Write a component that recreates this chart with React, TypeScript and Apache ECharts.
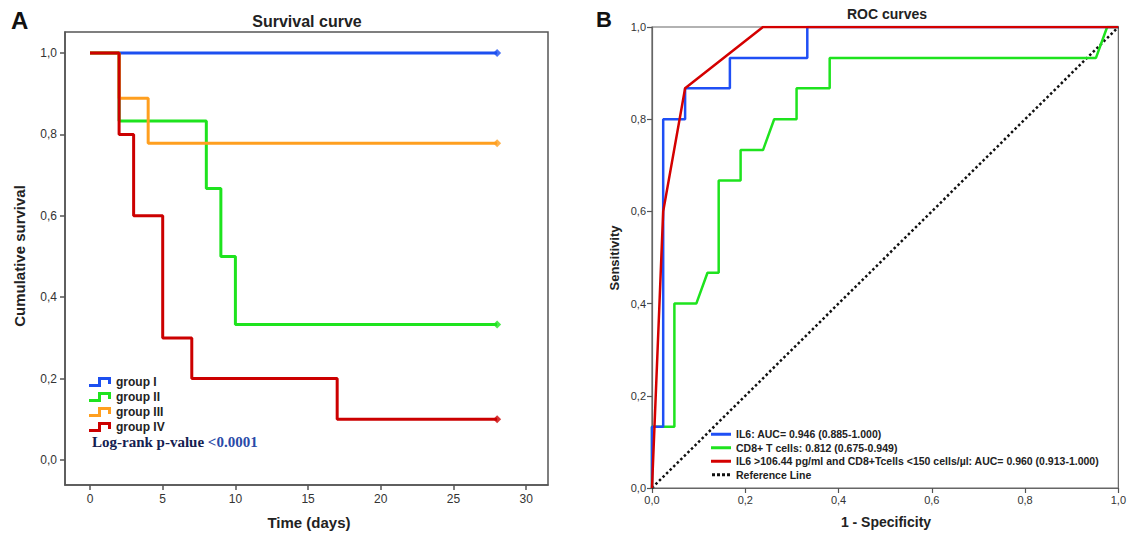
import React, { useEffect, useRef } from "react";
import * as echarts from "echarts";

// ---------- Panel A: survival curves ----------
const survivalXTicks = [0, 5, 10, 15, 20, 25, 30];
const survivalYTicks = [0, 0.2, 0.4, 0.6, 0.8, 1.0];
const groupNames = ["group I", "group II", "group III", "group IV"];
const groupColors = ["#1c4ff0", "#1ee31e", "#ff9f1f", "#cc0000"];
const groupITime = [0, 28];
const groupISurv = [1, 1];
const groupIITime = [0, 2, 8, 9, 10, 28];
const groupIISurv = [1, 0.833, 0.667, 0.5, 0.333, 0.333];
const groupIIITime = [0, 2, 4, 28];
const groupIIISurv = [1, 0.889, 0.778, 0.778];
const groupIVTime = [0, 2, 3, 5, 7, 17, 28];
const groupIVSurv = [1, 0.8, 0.6, 0.3, 0.2, 0.1, 0.1];
const censorTime = [28, 28, 28, 28];
const censorSurv = [1, 0.333, 0.778, 0.1];

// ---------- Panel B: ROC curves ----------
const rocTicks = [0, 0.2, 0.4, 0.6, 0.8, 1.0];
const rocNames = [
  "IL6: AUC= 0.946 (0.885-1.000)",
  "CD8+ T cells: 0.812 (0.675-0.949)",
  "IL6 >106.44 pg/ml and CD8+Tcells <150 cells/µl: AUC= 0.960 (0.913-1.000)",
  "Reference Line",
];
const rocColors = ["#1f4ff5", "#1ee31e", "#d40000", "#111111"];
const il6Fpr = [0, 0, 0.024, 0.024, 0.071, 0.071, 0.167, 0.167, 0.333, 0.333, 1];
const il6Tpr = [0, 0.133, 0.133, 0.8, 0.8, 0.867, 0.867, 0.933, 0.933, 1, 1];
const cd8Fpr = [0, 0, 0.048, 0.048, 0.095, 0.119, 0.143, 0.143, 0.19, 0.19, 0.238, 0.262, 0.31, 0.31, 0.381, 0.381, 0.952, 0.976, 1];
const cd8Tpr = [0, 0.133, 0.133, 0.4, 0.4, 0.467, 0.467, 0.667, 0.667, 0.733, 0.733, 0.8, 0.8, 0.867, 0.867, 0.933, 0.933, 1, 1];
const comboFpr = [0, 0.024, 0.071, 0.238, 1];
const comboTpr = [0, 0.6, 0.867, 1, 1];
const refFpr = [0, 1];
const refTpr = [0, 1];

const FONT = "'Liberation Sans', Arial, sans-serif";
const comma = (v: number) => v.toFixed(1).replace(".", ",");
const zip = (a: number[], b: number[]) => a.map((x, i) => [x, b[i]]);

const stepIcon = "path://M0,7 L9,7 L9,0 L22,0 L22,7 L19,7 L19,3 L12,3 L12,10 L0,10 Z";
const barIcon = "path://M0,0 L20,0 L20,3 L0,3 Z";
const dotIcon = "path://M0,0 L3,0 L3,3 L0,3 Z M5,0 L8,0 L8,3 L5,3 Z M10,0 L13,0 L13,3 L10,3 Z M15,0 L18,0 L18,3 L15,3 Z";

export default function App() {
  const ref = useRef<HTMLDivElement>(null);
  useEffect(() => {
    if (!ref.current) return;
    const chart = echarts.init(ref.current, undefined, { renderer: "svg" });
    const survData = [
      zip(groupITime, groupISurv),
      zip(groupIITime, groupIISurv),
      zip(groupIIITime, groupIIISurv),
      zip(groupIVTime, groupIVSurv),
    ];
    const rocData = [zip(il6Fpr, il6Tpr), zip(cd8Fpr, cd8Tpr), zip(comboFpr, comboTpr), zip(refFpr, refTpr)];
    const tickLabel = { fontFamily: FONT, color: "#333", fontSize: 12 };
    const axLineA = { show: true, onZero: false, lineStyle: { color: "#555", width: 1.5 } };
    const axLineB = { show: true, onZero: false, lineStyle: { color: "#666", width: 1.2 } };

    const option: any = {
      animation: false,
      backgroundColor: "#ffffff",
      grid: [
        { left: 65, top: 32, width: 483, height: 453, show: true, borderColor: "#555", borderWidth: 1.5, backgroundColor: "transparent" },
        { left: 652, top: 27, width: 469, height: 461, show: true, borderColor: "#666", borderWidth: 1.2, backgroundColor: "transparent" },
      ],
      xAxis: [
        {
          type: "value", gridIndex: 0, min: -1.72, max: 31.5,
          axisLine: axLineA, splitLine: { show: false },
          axisTick: { show: true, customValues: survivalXTicks, length: 5, lineStyle: { color: "#555", width: 1.5 } },
          axisLabel: { customValues: survivalXTicks, formatter: (v: number) => String(v), ...tickLabel, margin: 8 },
        },
        {
          type: "value", gridIndex: 1, min: 0, max: 1, interval: 0.2,
          axisLine: axLineB, splitLine: { show: false },
          axisTick: { show: true, length: 5, lineStyle: { color: "#555", width: 1.2 } },
          axisLabel: { formatter: comma, ...tickLabel, fontSize: 11, margin: 6 },
        },
      ],
      yAxis: [
        {
          type: "value", gridIndex: 0, min: -0.0614, max: 1.0516,
          axisLine: axLineA, splitLine: { show: false },
          axisTick: { show: true, customValues: survivalYTicks, length: 5, lineStyle: { color: "#555", width: 1.5 } },
          axisLabel: { customValues: survivalYTicks, formatter: comma, ...tickLabel, margin: 8 },
        },
        {
          type: "value", gridIndex: 1, min: 0, max: 1, interval: 0.2,
          axisLine: axLineB, splitLine: { show: false },
          axisTick: { show: true, length: 5, lineStyle: { color: "#555", width: 1.2 } },
          axisLabel: { formatter: comma, ...tickLabel, fontSize: 11, margin: 6 },
        },
      ],
      legend: [
        {
          orient: "vertical", left: 89, top: 375, padding: 0, itemWidth: 22, itemHeight: 10, itemGap: 1,
          data: groupNames.map((n) => ({ name: n, icon: stepIcon })),
          textStyle: { fontFamily: FONT, fontWeight: "bold", fontSize: 12, color: "#222", lineHeight: 14 },
          selectedMode: false,
        },
        {
          orient: "vertical", left: 711, top: 428, padding: 0, itemWidth: 20, itemHeight: 3, itemGap: 1,
          data: rocNames.map((n, i) => ({ name: n, icon: i === 3 ? dotIcon : barIcon })),
          textStyle: { fontFamily: FONT, fontWeight: "bold", fontSize: 10.5, color: "#222", lineHeight: 12.5 },
          selectedMode: false,
        },
      ],
      series: [
        ...survData.map((d, i) => ({
          type: "line", name: groupNames[i], xAxisIndex: 0, yAxisIndex: 0, data: d,
          step: "end", symbol: "none", z: 2 + i,
          lineStyle: { color: groupColors[i], width: 3 }, itemStyle: { color: groupColors[i] },
        })),
        {
          type: "scatter", xAxisIndex: 0, yAxisIndex: 0, symbol: "diamond", symbolSize: 8, z: 10,
          data: censorTime.map((t, i) => ({ value: [t, censorSurv[i]], itemStyle: { color: groupColors[i] } })),
        },
        ...[3, 1, 0, 2].map((i) => ({
          type: "line", name: rocNames[i], xAxisIndex: 1, yAxisIndex: 1, data: rocData[i],
          symbol: "none", z: i === 3 ? 2 : i === 2 ? 6 : i === 0 ? 5 : 4,
          lineStyle: i === 3
            ? { color: rocColors[i], width: 2.5, type: "dotted" }
            : { color: rocColors[i], width: 2.5 },
          itemStyle: { color: rocColors[i] },
        })),
      ],
      graphic: [
        { type: "text", left: 11, top: 8, style: { text: "A", font: `bold 24px ${FONT}`, fill: "#111" } },
        { type: "text", x: 307, y: 21, style: { text: "Survival curve", font: `bold 16px ${FONT}`, fill: "#222", align: "center", verticalAlign: "middle" } },
        { type: "text", x: 19, y: 256, rotation: Math.PI / 2, style: { text: "Cumulative survival", font: `bold 15px ${FONT}`, fill: "#222", align: "center", verticalAlign: "middle" } },
        { type: "text", x: 309, y: 522, style: { text: "Time (days)", font: `bold 15px ${FONT}`, fill: "#222", align: "center", verticalAlign: "middle" } },
        {
          type: "text", left: 92, top: 434,
          style: {
            text: "{a|Log-rank p-value }{b|<0.0001}",
            rich: {
              a: { font: "bold 15px 'Liberation Serif', 'Times New Roman', serif", fill: "#142050" },
              b: { font: "bold 15px 'Liberation Serif', 'Times New Roman', serif", fill: "#2a4aa8" },
            },
          },
        },
        { type: "text", left: 596, top: 8, style: { text: "B", font: `bold 22px ${FONT}`, fill: "#111" } },
        { type: "text", x: 887, y: 14, style: { text: "ROC curves", font: `bold 14px ${FONT}`, fill: "#222", align: "center", verticalAlign: "middle" } },
        { type: "text", x: 614, y: 258, rotation: Math.PI / 2, style: { text: "Sensitivity", font: `bold 13px ${FONT}`, fill: "#222", align: "center", verticalAlign: "middle" } },
        { type: "text", x: 886, y: 522, style: { text: "1 - Specificity", font: `bold 14px ${FONT}`, fill: "#222", align: "center", verticalAlign: "middle" } },
      ],
    };
    chart.setOption(option);
    return () => chart.dispose();
  }, []);
  return <div ref={ref} style={{ position: "absolute", left: 0, top: 0, width: 1129, height: 533 }} />;
}
